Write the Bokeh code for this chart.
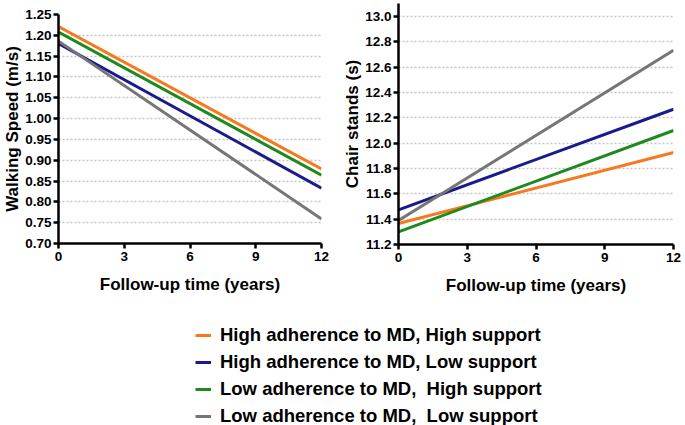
from bokeh.plotting import figure
from bokeh.layouts import column, row
from bokeh.models import Range1d, FixedTicker, NumeralTickFormatter, Legend, LegendItem
from bokeh.embed import file_html
from bokeh.resources import INLINE

# ---------------- data ----------------
years = [0, 12]
x_ticks = [0, 3, 6, 9, 12]

series_names = [
    "High adherence to MD, High support",
    "High adherence to MD, Low support",
    "Low adherence to MD,  High support",
    "Low adherence to MD,  Low support",
]
series_colors = ["#F7791F", "#1B1A8A", "#1E8A1E", "#767676"]

walking_high_md_high_sup = [1.221, 0.879]
walking_high_md_low_sup = [1.180, 0.833]
walking_low_md_high_sup = [1.208, 0.864]
walking_low_md_low_sup = [1.186, 0.759]

chair_high_md_high_sup = [11.366, 11.926]
chair_high_md_low_sup = [11.474, 12.268]
chair_low_md_high_sup = [11.300, 12.100]
chair_low_md_low_sup = [11.390, 12.734]

walking_ticks = [0.70, 0.75, 0.80, 0.85, 0.90, 0.95, 1.00, 1.05, 1.10, 1.15, 1.20, 1.25]
chair_ticks = [11.2, 11.4, 11.6, 11.8, 12.0, 12.2, 12.4, 12.6, 12.8, 13.0]

walking = [walking_high_md_high_sup, walking_high_md_low_sup, walking_low_md_high_sup, walking_low_md_low_sup]
chair = [chair_high_md_high_sup, chair_high_md_low_sup, chair_low_md_high_sup, chair_low_md_low_sup]

FONT = "Liberation Sans"


def style(p, yticks, fmt, ylabel):
    p.outline_line_color = None
    p.background_fill_color = "white"
    p.border_fill_color = "white"
    p.xgrid.visible = False
    p.ygrid.ticker = FixedTicker(ticks=yticks[1:])
    p.ygrid.grid_line_color = "#c4c4c4"
    p.ygrid.grid_line_dash = "2 2"
    p.ygrid.grid_line_width = 1.5
    p.xaxis.ticker = FixedTicker(ticks=x_ticks)
    p.yaxis.ticker = FixedTicker(ticks=yticks)
    p.yaxis.formatter = NumeralTickFormatter(format=fmt)
    for ax in (p.xaxis[0], p.yaxis[0]):
        ax.axis_line_width = 2.5
        ax.axis_line_color = "black"
        ax.major_tick_line_width = 2.5
        ax.major_tick_line_color = "black"
        ax.major_tick_out = 5
        ax.major_tick_in = 0
        ax.minor_tick_line_color = None
        ax.major_label_text_font = FONT
        ax.major_label_text_font_style = "bold"
        ax.major_label_text_font_size = "13.5px"
        ax.major_label_text_color = "black"
        ax.axis_label_text_font = FONT
        ax.axis_label_text_font_style = "bold"
        ax.axis_label_text_font_size = "17px"
        ax.axis_label_text_color = "black"
    p.xaxis.axis_label = "Follow-up time (years)"
    p.xaxis.major_label_standoff = 3
    p.xaxis.axis_label_standoff = 11
    p.yaxis.axis_label = ylabel
    p.yaxis.major_label_standoff = 2
    p.yaxis.axis_label_standoff = 0


p1 = figure(frame_width=263, frame_height=229, output_backend="svg", toolbar_location=None,
            x_range=Range1d(0, 12), y_range=Range1d(0.70, 1.25),
            min_border_top=14, min_border_left=45, min_border_right=19, min_border_bottom=57)
style(p1, walking_ticks, "0.00", "Walking Speed (m/s)")
for vals, c in zip(walking, series_colors):
    p1.line(years, vals, line_color=c, line_width=3)

p2 = figure(frame_width=275, frame_height=241, output_backend="svg", toolbar_location=None,
            x_range=Range1d(0, 12), y_range=Range1d(11.2, 13.103),
            min_border_top=3, min_border_left=50, min_border_right=8, min_border_bottom=56)
style(p2, chair_ticks, "0.0", "Chair stands (s)")
for vals, c in zip(chair, series_colors):
    p2.line(years, vals, line_color=c, line_width=3)

p3 = figure(width=670, height=125, output_backend="svg", toolbar_location=None,
            x_range=Range1d(100, 101), y_range=Range1d(100, 101),
            x_axis_location=None, y_axis_location=None,
            min_border_left=195, min_border_top=23, min_border_right=0, min_border_bottom=0)
p3.outline_line_color = None
p3.grid.visible = False
items = []
for name, vals, c in zip(series_names, walking, series_colors):
    r = p3.line(years, vals, line_color=c, line_width=3)
    items.append(LegendItem(label=name, renderers=[r]))
legend = Legend(items=items, location="top_left", glyph_width=16, glyph_height=24,
                label_height=24, spacing=3, padding=0, margin=0, label_standoff=9,
                border_line_color=None, background_fill_alpha=0,
                label_text_font=FONT, label_text_font_size="18.5px",
                label_text_font_style="bold", label_text_color="black")
p3.add_layout(legend)

layout = column(row(column(p1), column(p2)), p3)
open("out.html", "w").write(file_html(layout, INLINE))
